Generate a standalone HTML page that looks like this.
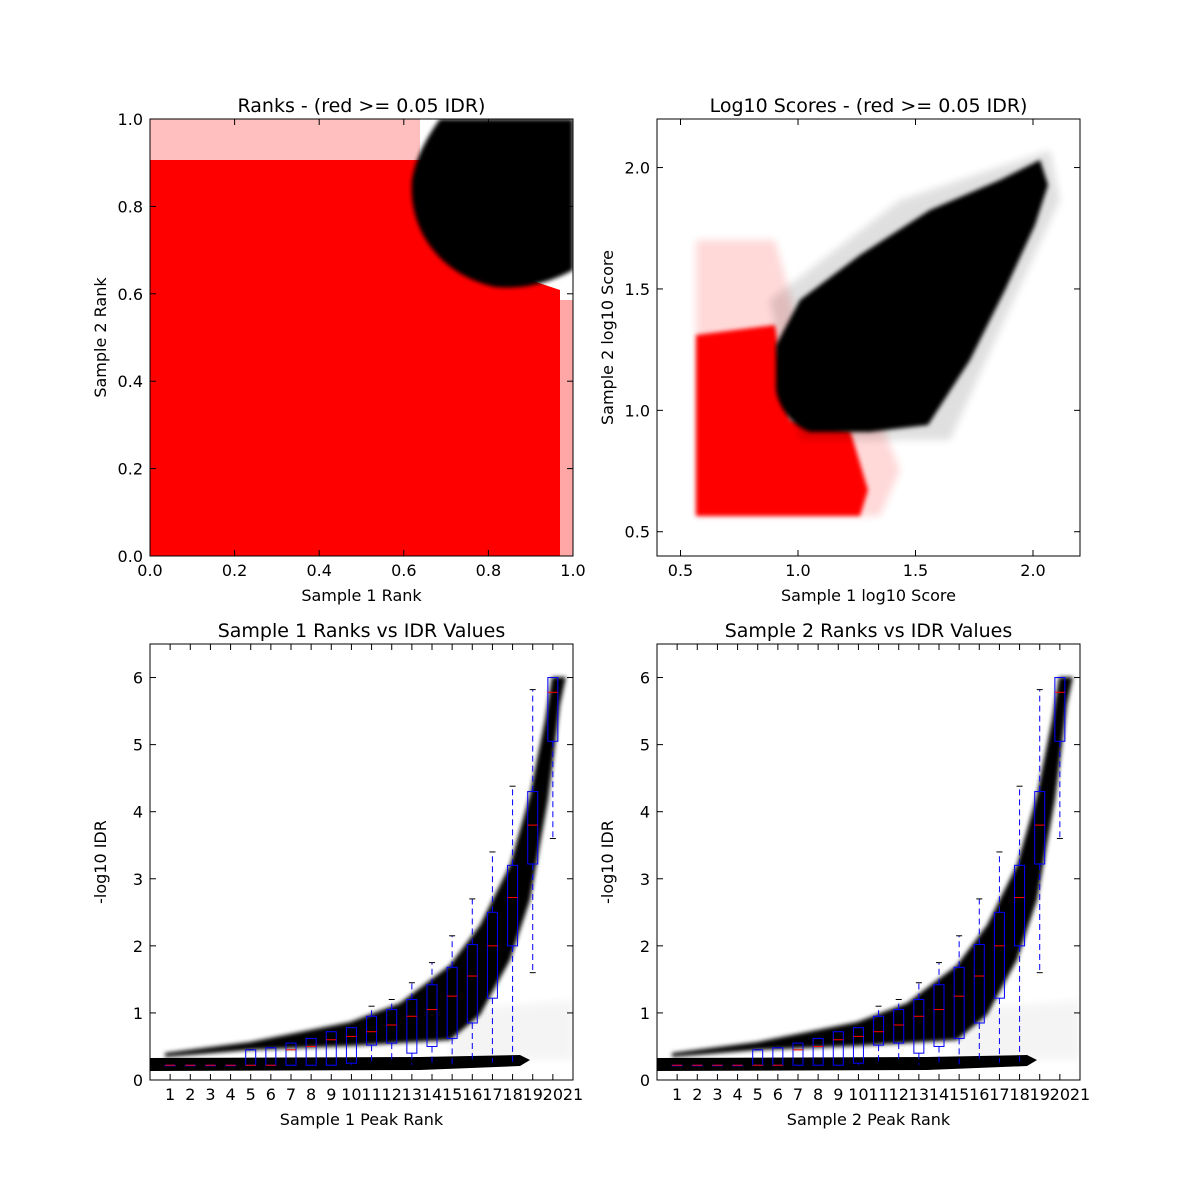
<!DOCTYPE html>
<html><head><meta charset="utf-8"><style>
body{margin:0;background:#fff}
svg{display:block;font-family:"DejaVu Sans","Liberation Sans",sans-serif}
</style></head><body>
<svg id="fig" width="1200" height="1200" viewBox="0 0 1200 1200" xmlns="http://www.w3.org/2000/svg">
<defs>
<filter id="blur" x="-10%" y="-10%" width="120%" height="120%"><feGaussianBlur stdDeviation="4"/></filter>
<filter id="blur2" x="-10%" y="-10%" width="120%" height="120%"><feGaussianBlur stdDeviation="2"/></filter>
<clipPath id="c1"><rect x="150" y="119" width="423" height="437"/></clipPath>
<clipPath id="c2"><rect x="657" y="119" width="423" height="437"/></clipPath>
<clipPath id="c3"><rect x="150" y="644" width="423" height="436"/></clipPath>
<clipPath id="c4"><rect x="657" y="644" width="423" height="436"/></clipPath>
</defs>
<rect width="1200" height="1200" fill="#fff"/>

<g clip-path="url(#c1)">
<path d="M150 119 L420 119 L420 160 L150 160 Z" fill="#ff0000" opacity="0.25"/>
<path d="M150 160 L440 160 L470 260 L560 290 L560 556 L150 556 Z" fill="#ff0000"/>
<path d="M540 300 L573 300 L573 556 L540 556 Z" fill="#ff0000" opacity="0.35"/>
<path d="M412 180 C408 230 440 275 495 287 C525 290 550 282 573 270 L573 119 L440 119 C425 140 415 160 412 180 Z" fill="#000" filter="url(#blur2)"/>
</g>

<g clip-path="url(#c2)">
<path d="M696 240 L775 240 L800 330 L880 420 L900 470 L880 516 L696 516 Z" fill="#ff0000" opacity="0.15" filter="url(#blur)"/>
<path d="M696 335 L775 325 L790 420 L850 430 L868 490 L860 516 L696 516 Z" fill="#ff0000" filter="url(#blur2)"/>
<path d="M776 345 L800 300 L860 255 L930 210 L1000 180 L1040 160 L1048 185 L1035 225 L1005 290 L970 360 L928 425 L870 432 L810 432 C790 425 778 405 776 390 Z" fill="#000" filter="url(#blur2)"/>
<path d="M770 300 L900 200 L1050 150 L1060 200 L1000 330 L950 440 L800 440 Z" fill="#000" opacity="0.12" filter="url(#blur)"/>
</g>

<g clip-path="url(#c3)">
<path d="M450 1010 L573 1000 L573 1060 L450 1060 Z" fill="#000" opacity="0.04" filter="url(#blur)"/>
<path d="M165 1053 L250 1042 L350 1022 L400 1003 L450 965 L480 925 L510 865 L530 795 L545 720 L552 677 L566 677 L560 705 L548 800 L530 900 L510 960 L480 1015 L450 1040 L350 1046 L250 1050 L165 1057 Z" fill="#000" filter="url(#blur2)"/>
<path d="M150 1058 L420 1057 L520 1055 L530 1060 L520 1066 L420 1070 L150 1071 Z" fill="#000"/>
</g>
<g clip-path="url(#c4)">
<path d="M957 1010 L1080 1000 L1080 1060 L957 1060 Z" fill="#000" opacity="0.04" filter="url(#blur)"/>
<path d="M672 1053 L757 1042 L857 1022 L907 1003 L957 965 L987 925 L1017 865 L1037 795 L1052 720 L1059 677 L1073 677 L1067 705 L1055 800 L1037 900 L1017 960 L987 1015 L957 1040 L857 1046 L757 1050 L672 1057 Z" fill="#000" filter="url(#blur2)"/>
<path d="M657 1058 L927 1057 L1027 1055 L1037 1060 L1027 1066 L927 1070 L657 1071 Z" fill="#000"/>
</g>

<g id="axes"></g>
</svg>
<script>
const positions=[1,2,3,4,5,6,7,8,9,10,11,12,13,14,15,16,17,18,19,20];
const q1s=[.22,.22,.22,.22,.22,.22,.22,.22,.22,.25,.52,.55,.4,.5,.62,.85,1.22,2.0,3.22,5.05];
const medians=[.22,.22,.22,.22,.22,.22,.45,.5,.6,.65,.72,.82,.95,1.05,1.25,1.55,2.0,2.72,3.8,5.78];
const q3s=[.22,.22,.22,.22,.45,.48,.55,.62,.72,.78,.95,1.05,1.2,1.42,1.68,2.02,2.5,3.2,4.3,6.0];
const wlos=[.22,.22,.22,.22,.22,.22,.22,.22,.22,.22,.22,.25,.22,.22,.22,.25,.25,.25,1.6,3.6];
const whis=[.22,.22,.22,.22,.45,.48,.55,.62,.72,.78,1.1,1.2,1.45,1.75,2.15,2.7,3.4,4.38,5.82,6.0];
const tlTicks=[0,0.2,0.4,0.6,0.8,1.0];
const trTicks=[0.5,1.0,1.5,2.0];
const bYTicks=[0,1,2,3,4,5,6];
const bXTicks=[1,2,3,4,5,6,7,8,9,10,11,12,13,14,15,16,17,18,19,20,21];
const NS="http://www.w3.org/2000/svg";
const root=document.getElementById('axes');
function el(tag,a,parent){const e=document.createElementNS(NS,tag);for(const k in a)e.setAttribute(k,a[k]);(parent||root).appendChild(e);return e;}
function txt(s,x,y,anchor,size,parent,rot){const t=el('text',{x:x,y:y,'text-anchor':anchor,'font-size':size,fill:'#000'},parent);if(rot)t.setAttribute('transform',`rotate(-90 ${x} ${y})`);t.textContent=s;return t;}
function axes(name,L,T,W,H,xmin,xmax,ymin,ymax,xt,yt,fmtx,fmty,title,xl,yl){
  const g=el('g',{});
  
  
  const sx=v=>L+(v-xmin)/(xmax-xmin)*W, sy=v=>T+H-(v-ymin)/(ymax-ymin)*H;
  el('rect',{x:L,y:T,width:W,height:H,fill:'none',stroke:'#000','stroke-width':1},g);
  xt.forEach(v=>{const x=sx(v);el('line',{x1:x,x2:x,y1:T+H,y2:T+H-6,stroke:'#000'},g);el('line',{x1:x,x2:x,y1:T,y2:T+6,stroke:'#000'},g);
    const t=txt(fmtx(v),x,T+H+20,'middle',16,g);});
  yt.forEach(v=>{const y=sy(v);el('line',{x1:L,x2:L+6,y1:y,y2:y,stroke:'#000'},g);el('line',{x1:L+W,x2:L+W-6,y1:y,y2:y,stroke:'#000'},g);
    const t=txt(fmty(v),L-7,y+6,'end',16,g);});
  const tt=txt(title,L+W/2,T-7,'middle',19,g);
  const xa=txt(xl,L+W/2,T+H+45,'middle',16,g);
  const ya=txt(yl,L-44,T+H/2,'middle',16,g,true);
  return {sx,sy,g};
}
const f1=v=>v.toFixed(1), f0=v=>String(v);
axes('ranks-axes',150,119,423,437,0,1,0,1,tlTicks,tlTicks,f1,f1,'Ranks - (red >= 0.05 IDR)','Sample 1 Rank','Sample 2 Rank');
axes('scores-axes',657,119,423,437,0.4,2.2,0.4,2.2,trTicks,trTicks,f1,f1,'Log10 Scores - (red >= 0.05 IDR)','Sample 1 log10 Score','Sample 2 log10 Score');
function boxes(ax,name){
  const g=el('g',{},ax.g);
  
  
  positions.forEach((p,i)=>{
    const x=ax.sx(p), hw=5, cw=3;
    const b=el('g',{},g);
    
    
    el('line',{x1:x,x2:x,y1:ax.sy(q3s[i]),y2:ax.sy(whis[i]),stroke:'#0000ff','stroke-dasharray':'6,4'},b);
    el('line',{x1:x,x2:x,y1:ax.sy(q1s[i]),y2:ax.sy(wlos[i]),stroke:'#0000ff','stroke-dasharray':'6,4'},b);
    el('line',{x1:x-cw,x2:x+cw,y1:ax.sy(whis[i]),y2:ax.sy(whis[i]),stroke:'#000'},b);
    el('line',{x1:x-cw,x2:x+cw,y1:ax.sy(wlos[i]),y2:ax.sy(wlos[i]),stroke:'#000'},b);
    el('rect',{x:x-hw,y:ax.sy(q3s[i]),width:2*hw,height:Math.max(0.5,ax.sy(q1s[i])-ax.sy(q3s[i])),fill:'none',stroke:'#0000ff'},b);
    el('line',{x1:x-hw,x2:x+hw,y1:ax.sy(medians[i]),y2:ax.sy(medians[i]),stroke:'#ff0000'},b);
  });
}
const a3=axes('idr-axes-1',150,644,423,436,0,21,0,6.5,bXTicks,bYTicks,f0,f0,'Sample 1 Ranks vs IDR Values','Sample 1 Peak Rank','-log10 IDR');
boxes(a3,'boxplots-1');
const a4=axes('idr-axes-2',657,644,423,436,0,21,0,6.5,bXTicks,bYTicks,f0,f0,'Sample 2 Ranks vs IDR Values','Sample 2 Peak Rank','-log10 IDR');
boxes(a4,'boxplots-2');
</script>
</body></html>
